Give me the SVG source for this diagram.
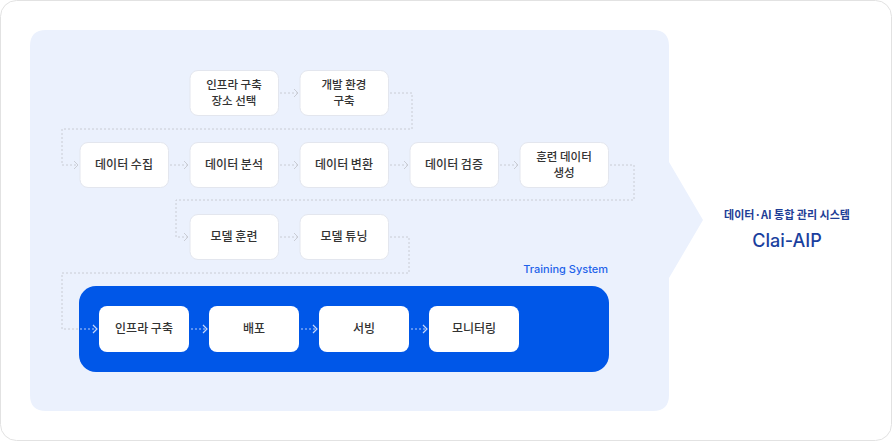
<svg xmlns="http://www.w3.org/2000/svg" width="892" height="441" viewBox="0 0 892 441">
<defs>
<style>
.node rect{fill:#ffffff;stroke:#e3e6ee;stroke-width:1}
.node text{font-family:"Noto Sans CJK KR","Noto Sans",sans-serif;font-size:12px;font-weight:500;fill:#333333;text-anchor:middle}
.node text.two{font-size:11.5px}
.c{fill:none;stroke:#c9ccd4;stroke-width:1;stroke-dasharray:2 2}
.cb{fill:none;stroke:#b9cdf6;stroke-width:1.2;stroke-dasharray:2 2}
.ah{fill:none;stroke:#c9ccd4;stroke-width:1}
.ahb{fill:none;stroke:#c6d7fa;stroke-width:1.2}
</style>
</defs>
<rect x="0.5" y="0.5" width="891" height="440" rx="16" fill="#ffffff" stroke="#e2e2e2"/>
<path d="M46 30 H653 Q669 30 669 46 V162 L703 220 L669 278 V395 Q669 411 653 411 H46 Q30 411 30 395 V46 Q30 30 46 30 Z" fill="#ebf1fd"/>
<g id="training-system">
<rect x="79" y="286" width="530" height="86" rx="17" fill="#0057e8"/>
<text x="608" y="273" font-family="Inter,'Noto Sans',sans-serif" font-size="11" font-weight="500" fill="#1f63ea" text-anchor="end">Training System</text>
</g>
<g id="connectors">
<path class="c" d="M280 93 H297"/><path class="ah" d="M294 89 L298 93 L294 97"/>
<path class="c" d="M390 93 H412 V129 H62 V165 H77"/><path class="ah" d="M74 161 L78 165 L74 169"/>
<path class="c" d="M170 165 H187"/><path class="ah" d="M184 161 L188 165 L184 169"/>
<path class="c" d="M280 165 H297"/><path class="ah" d="M294 161 L298 165 L294 169"/>
<path class="c" d="M390 165 H407"/><path class="ah" d="M404 161 L408 165 L404 169"/>
<path class="c" d="M500 165 H517"/><path class="ah" d="M514 161 L518 165 L514 169"/>
<path class="c" d="M610 165 H634 V200 H176 V237 H187"/><path class="ah" d="M184 233 L188 237 L184 241"/>
<path class="c" d="M280 237 H297"/><path class="ah" d="M294 233 L298 237 L294 241"/>
<path class="c" d="M390 237 H409 V273 H62 V329 H79"/>
<path class="cb" d="M80 329 H96" stroke="#e8efff"/><path class="ahb" d="M93 325 L97 329 L93 333"/>
<path class="cb" d="M191 329 H206"/><path class="ahb" d="M203 325 L207 329 L203 333"/>
<path class="cb" d="M301 329 H316"/><path class="ahb" d="M313 325 L317 329 L313 333"/>
<path class="cb" d="M411 329 H426"/><path class="ahb" d="M423 325 L427 329 L423 333"/>
</g>
<g id="n-infra-site" class="node"><rect x="190" y="70.5" width="88.5" height="45" rx="8"/><text class="two" x="234" y="88.5"><tspan x="234">인프라 구축</tspan><tspan x="234" dy="16.8">장소 선택</tspan></text></g>
<g id="n-dev-env" class="node"><rect x="300" y="70.5" width="88.5" height="45" rx="8"/><text class="two" x="344" y="88.5"><tspan x="344">개발 환경</tspan><tspan x="344" dy="16.8">구축</tspan></text></g>
<g id="n-collect" class="node"><rect x="80" y="142.5" width="88.5" height="45" rx="8"/><text x="124" y="169">데이터 수집</text></g>
<g id="n-analyze" class="node"><rect x="190" y="142.5" width="88.5" height="45" rx="8"/><text x="234" y="169">데이터 분석</text></g>
<g id="n-transform" class="node"><rect x="300" y="142.5" width="88.5" height="45" rx="8"/><text x="344" y="169">데이터 변환</text></g>
<g id="n-validate" class="node"><rect x="410" y="142.5" width="88.5" height="45" rx="8"/><text x="454" y="169">데이터 검증</text></g>
<g id="n-gen" class="node"><rect x="520" y="142.5" width="88.5" height="45" rx="8"/><text class="two" x="564" y="160.5"><tspan x="564">훈련 데이터</tspan><tspan x="564" dy="16.8">생성</tspan></text></g>
<g id="n-train" class="node"><rect x="190" y="214.5" width="88.5" height="45" rx="8"/><text x="234" y="241">모델 훈련</text></g>
<g id="n-tune" class="node"><rect x="300" y="214.5" width="88.5" height="45" rx="8"/><text x="344" y="241">모델 튜닝</text></g>
<g id="n-infra" class="node"><rect x="99" y="306" width="90" height="46" rx="8" style="stroke:none"/><text x="144" y="333">인프라 구축</text></g>
<g id="n-deploy" class="node"><rect x="209" y="306" width="90" height="46" rx="8" style="stroke:none"/><text x="254" y="333">배포</text></g>
<g id="n-serve" class="node"><rect x="319" y="306" width="90" height="46" rx="8" style="stroke:none"/><text x="364" y="333">서빙</text></g>
<g id="n-monitor" class="node"><rect x="429" y="306" width="90" height="46" rx="8" style="stroke:none"/><text x="474" y="333">모니터링</text></g>
<g id="system">
<text x="787" y="219" font-family="'Noto Sans CJK KR','Noto Sans',sans-serif" font-size="11" font-weight="700" fill="#1d3d96" text-anchor="middle">데이터·AI 통합 관리 시스템</text>
<text x="787" y="247" font-family="Inter,'Noto Sans',sans-serif" font-size="18" font-weight="500" fill="#1a3f9e" text-anchor="middle">Clai-AIP</text>
</g>
</svg>
